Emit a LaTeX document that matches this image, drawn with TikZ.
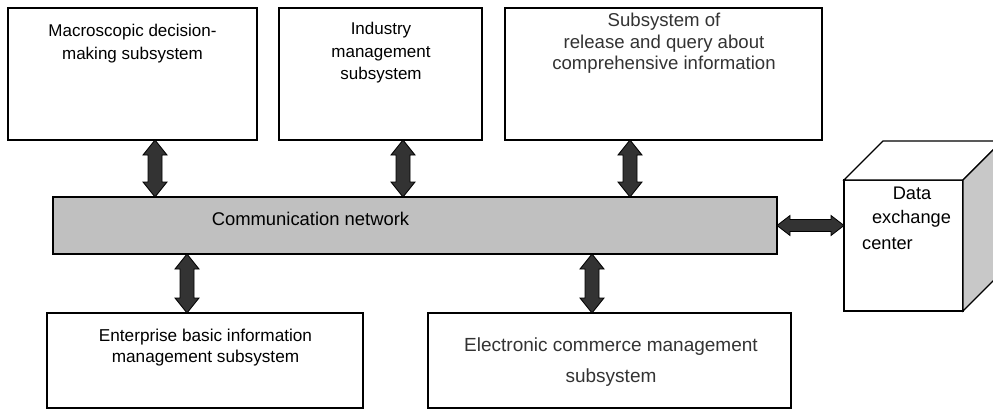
\documentclass[tikz,border=0pt]{standalone}
\usepackage{fontspec}
\setmainfont{Liberation Sans}
\usetikzlibrary{calc}
\definecolor{netgray}{HTML}{C0C0C0}
\definecolor{sidegray}{HTML}{C8C8C8}
\definecolor{arrowfill}{HTML}{333333}
\definecolor{softtext}{HTML}{333333}
\tikzset{
  box/.style={draw=black, fill=white, line width=1.2pt, inner sep=0pt, outer sep=0pt, anchor=north west},
  netbox/.style={box, fill=netgray},
  arrowbody/.style={fill=arrowfill, draw=black, line width=0.8pt, line join=miter},
  lbl/.style={anchor=base, inner sep=0pt},
}
\newcommand\vdarr[3]{% #1 x, #2 upper node, #3 lower node
  \filldraw[arrowbody] let \p1=(#2.south), \p2=(#3.north), \p3=(#1,0) in
    (\x3,\y1) -- (\x3+12pt,\y1-15pt) -- (\x3+7pt,\y1-15pt) -- (\x3+7pt,\y2+15pt)
    -- (\x3+12pt,\y2+15pt) -- (\x3,\y2) -- (\x3-12pt,\y2+15pt) -- (\x3-7pt,\y2+15pt)
    -- (\x3-7pt,\y1-15pt) -- (\x3-12pt,\y1-15pt) -- cycle;}
\newcommand\hdarr[2]{% #1 left node, #2 right node
  \filldraw[arrowbody] let \p1=(#1.east), \p2=(#2.west) in
    (\x1,\y1) -- (\x1+13pt,\y1+10pt) -- (\x1+13pt,\y1+6pt) -- (\x2-13pt,\y1+6pt)
    -- (\x2-13pt,\y1+10pt) -- (\x2,\y1) -- (\x2-13pt,\y1-10pt) -- (\x2-13pt,\y1-6pt)
    -- (\x1+13pt,\y1-6pt) -- (\x1+13pt,\y1-10pt) -- cycle;}
\begin{document}
\begin{tikzpicture}[x=1pt,y=-1pt]
\useasboundingbox (0,0) rectangle (993,409);
\fill[white] (0,0) rectangle (993,409);

% boxes
\node[box, minimum width=249pt, minimum height=132pt] (b1) at (8,8) {};
\node[box, minimum width=203pt, minimum height=132pt] (b2) at (279,8) {};
\node[box, minimum width=317pt, minimum height=132pt] (b3) at (505,8) {};
\node[netbox, minimum width=724pt, minimum height=57pt] (net) at (53,197) {};
\node[box, minimum width=316pt, minimum height=95pt] (b4) at (47,313) {};
\node[box, minimum width=363pt, minimum height=95pt] (b5) at (428,313) {};

% cube
\node[box, minimum width=119pt, minimum height=131pt] (dc) at (844,180) {};
\filldraw[fill=white, line width=1.2pt, line join=miter] (dc.north west) -- ++(39,-39) -- ++(119,0) -- (dc.north east) -- cycle;
\filldraw[fill=sidegray, line width=1.2pt, line join=miter] (dc.north east) -- ++(39,-39) -- ++(0,131) -- (dc.south east) -- cycle;

% texts
\node[lbl, font=\fontsize{17}{21}\selectfont] (t1a) at (132.5,37) {Macroscopic decision-};
\node[lbl, font=\fontsize{17}{21}\selectfont] (t1b) at (132.5,60) {making subsystem};
\node[lbl, font=\fontsize{17}{21}\selectfont] (t2a) at (381,35) {Industry};
\node[lbl, font=\fontsize{17}{21}\selectfont] (t2b) at (381,58) {management};
\node[lbl, font=\fontsize{17}{21}\selectfont] (t2c) at (381,80) {subsystem};
\node[lbl, text=softtext, font=\fontsize{18.6}{21}\selectfont] (t3a) at (664,27) {Subsystem of};
\node[lbl, text=softtext, font=\fontsize{18.6}{21}\selectfont] (t3b) at (664,49) {release and query about};
\node[lbl, text=softtext, font=\fontsize{18.6}{21}\selectfont] (t3c) at (664,70) {comprehensive information};
\node[lbl, font=\fontsize{18.4}{21}\selectfont] (tn) at (310.5,225) {Communication network};
\node[lbl, font=\fontsize{17.2}{21}\selectfont] (t4a) at (205.5,341) {Enterprise basic information};
\node[lbl, font=\fontsize{17.2}{21}\selectfont] (t4b) at (205.5,362) {management subsystem};
\node[lbl, text=softtext, font=\fontsize{19}{21}\selectfont] (t5a) at (611,351) {Electronic commerce management};
\node[lbl, text=softtext, font=\fontsize{19}{21}\selectfont] (t5b) at (611,382) {subsystem};
\node[lbl, font=\fontsize{18.2}{21}\selectfont] (tda) at (912,199) {Data};
\node[lbl, font=\fontsize{18.2}{21}\selectfont] (tdb) at (911.5,223) {exchange};
\node[lbl, font=\fontsize{18.2}{21}\selectfont] (tdc) at (887.5,249) {center};

% arrows
\vdarr{155}{b1}{net}
\vdarr{403}{b2}{net}
\vdarr{630}{b3}{net}
\vdarr{187}{net}{b4}
\vdarr{592}{net}{b5}
\hdarr{net}{dc}
\end{tikzpicture}
\end{document}
